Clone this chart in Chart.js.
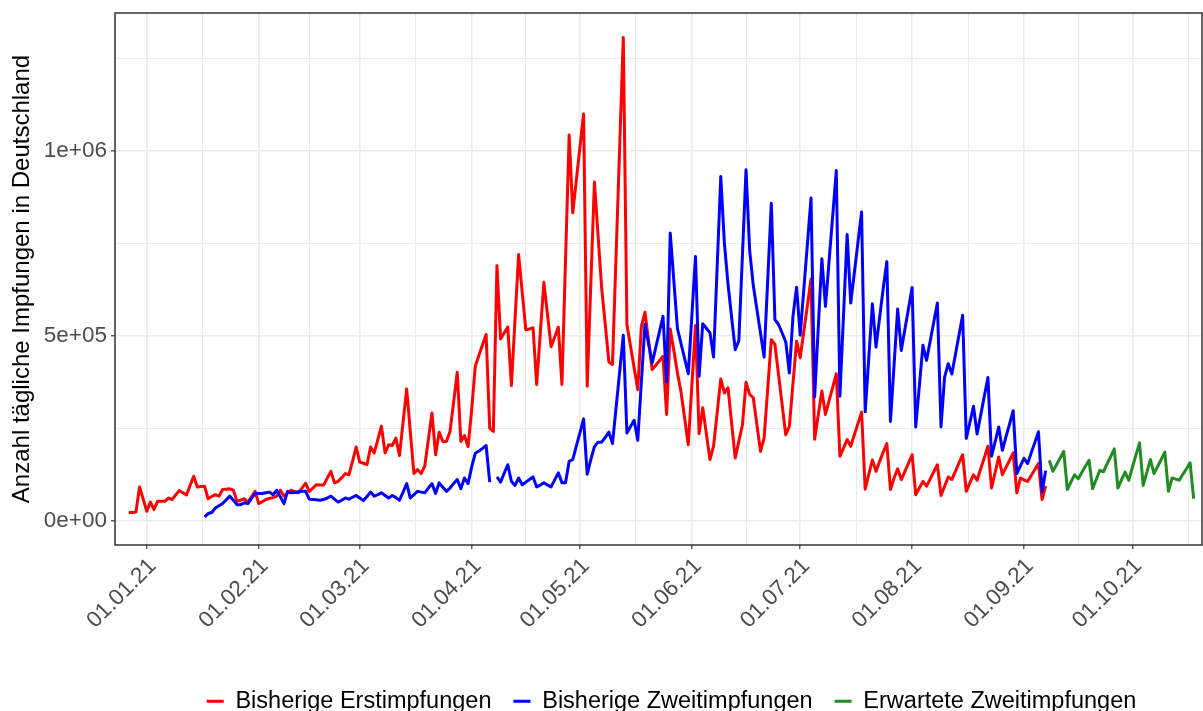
<!DOCTYPE html>
<html lang="de">
<head>
    <meta charset="UTF-8">
    <title>Tägliche Impfungen in Deutschland</title>
    <script src="https://cdn.jsdelivr.net/npm/chart.js"></script>
    <style>
        body {
            margin: 0;
            padding: 0;
            background: #fff;
        }

        .chart-container {
            width: 1203px;
            height: 711px;
        }
    </style>
</head>
<body>

    <div class="chart-container">
        <canvas id="impfChart" width="1203" height="711"></canvas>
    </div>

    <script>
        // x-Achse: Tage ab dem 01.01.21 (= Tag 0)
        const tickDays = [0, 31, 59, 90, 120, 151, 181, 212, 243, 273];
        const tickLabels = ['01.01.21', '01.02.21', '01.03.21', '01.04.21', '01.05.21',
                            '01.06.21', '01.07.21', '01.08.21', '01.09.21', '01.10.21'];
        const minorDays = [15.5, 45, 74.5, 105, 135.5, 166, 196.5, 227.5, 258, 288.5];

        const yTickValues = [0, 500000, 1000000];
        const yTickLabels = ['0e+00', '5e+05', '1e+06'];
        const yMinorValues = [250000, 750000, 1250000];

        // Werte in Tausend, ein Wert pro Tag
        const erstStart = -5; // 27.12.20
        const erstimpfungen = [
            22, 22, 23, 91, 58,
            25, 50, 30, 52, 52, 52, 61, 57, 69, 81,
            75, 69, 95, 120, 91, 92, 93, 59, 65, 70,
            66, 84, 85, 86, 82, 52, 55, 59, 50, 64,
            79, 46, 51, 57, 60, 62, 66, 82, 66, 74,
            82, 78, 75, 88, 101, 79, 88, 97, 96, 96,
            115, 133, 102, 106, 116, 127, 124, 160, 199, 158,
            155, 151, 199, 183, 219, 255, 183, 205, 203, 223,
            176, 266, 356, 240, 127, 138, 127, 147, 219, 291,
            178, 239, 214, 214, 241, 320, 401, 214, 230, 200,
            300, 417, 446, 475, 503, 250, 241, 689, 491, 507,
            523, 365, 542, 719, 617, 516, 518, 521, 368, 506,
            644, 557, 470, 496, 523, 368, 705, 1042, 832, 921,
            1010, 1099, 363, 640, 915, 772, 629, 530, 429, 422,
            717, 1011, 1306, 530, 471, 413, 354, 525, 563, 486,
            408, 420, 432, 444, 287, 518, 460, 399, 347, 276,
            205, 366, 527, 235, 305, 235, 165, 201, 292, 383,
            345, 359, 264, 169, 214, 259, 374, 341, 332, 260,
            187, 223, 356, 489, 476, 395, 313, 232, 255, 370,
            485, 440, 511, 582, 653, 220, 285, 350, 287, 324,
            360, 397, 174, 196, 219, 201, 232, 262, 293, 85,
            125, 164, 133, 160, 185, 208, 84, 115, 140, 111,
            133, 155, 178, 70, 88, 106, 93, 112, 132, 151,
            68, 93, 118, 111, 133, 156, 178, 79, 102, 124,
            109, 140, 170, 201, 88, 130, 172, 124, 144, 163,
            183, 75, 115, 110, 106, 122, 138, 154, 57, 93
        ];

        const zweitStart = 16; // 17.01.21
        const zweitimpfungen = [
            10, 19, 22, 34,
            40, 46, 56, 66, 55, 43, 43, 48, 46, 60,
            73, 73, 73, 75, 77, 70, 82, 64, 46, 79,
            75, 76, 78, 79, 79, 58, 57, 56, 55, 57,
            61, 66, 58, 50, 55, 61, 58, 63, 68, 61,
            54, 65, 77, 66, 70, 75, 68, 61, 68, 62,
            55, 77, 100, 61, 70, 79, 77, 75, 88, 100,
            73, 102, 90, 79, 88, 100, 111, 86, 115, 100,
            145, 182, 188, 195, 203, 104, null, 118, 104, 128,
            151, 106, 95, 115, 97, 104, 111, 118, 91, 96,
            102, 96, 91, 110, 129, 102, 102, 160, 165, 202,
            238, 275, 125, 165, 200, 212, 212, 225, 239, 208,
            305, 403, 501, 237, 254, 271, 217, 374, 531, 478,
            426, 468, 510, 552, 375, 777, 648, 519, 478, 438,
            397, 555, 714, 390, 532, 520, 508, 442, 686, 930,
            750, 640, 550, 462, 486, 717, 948, 730, 636, 571,
            507, 442, 650, 858, 543, 530, 507, 483, 399, 552,
            631, 501, 625, 748, 872, 334, 521, 708, 579, 701,
            823, 946, 336, 555, 773, 588, 670, 752, 834, 294,
            440, 586, 469, 549, 628, 700, 268, 420, 572, 460,
            517, 573, 630, 253, 363, 474, 433, 485, 537, 588,
            253, 388, 424, 396, 449, 502, 555, 222, 265, 309,
            234, 285, 336, 387, 174, 213, 253, 190, 226, 261,
            297, 127, 148, 168, 154, 183, 211, 240, 78, 135
        ];

        const erwartetStart = 250; // 08.09.21
        const erwarteteZweitimpfungen = [
            163, 133, 151, 169, 187, 84, 104, 124, 113, 130,
            147, 163, 86, 111, 136, 132, 153, 173, 194, 88,
            110, 131, 109, 143, 177, 210, 95, 130, 165, 127,
            146, 165, 185, 79, 115, 112, 109, 125, 140, 156, 59
        ];

        const FONT = 'Liberation Sans';
        Chart.defaults.font.family = FONT;

        function toPoints(start, values) {
            return values.map((v, i) => ({ x: start + i, y: v === null ? null : v * 1000 }));
        }

        // Rahmen um das Panel (wie theme_bw)
        const panelBorder = {
            id: 'panelBorder',
            afterLayout(chart) {
                // Legende etwas nach rechts, wie im Original
                chart.legend.left += 13;
                chart.legend.right += 13;
            },
            afterDraw(chart) {
                const { ctx, chartArea: a } = chart;
                ctx.save();
                ctx.strokeStyle = '#333333';
                ctx.lineWidth = 1.5;
                ctx.strokeRect(a.left, a.top, a.right - a.left, a.bottom - a.top);
                ctx.restore();
            }
        };

        const lineStyle = {
            borderWidth: 3,
            pointRadius: 0,
            tension: 0,
            borderJoinStyle: 'round',
            spanGaps: false
        };

        const ctx = document.getElementById('impfChart').getContext('2d');

        new Chart(ctx, {
            type: 'line',
            data: {
                datasets: [
                    {
                        label: 'Bisherige Erstimpfungen',
                        data: toPoints(erstStart, erstimpfungen),
                        borderColor: '#FF0000',
                        backgroundColor: '#FF0000',
                        order: 3,
                        ...lineStyle
                    },
                    {
                        label: 'Bisherige Zweitimpfungen',
                        data: toPoints(zweitStart, zweitimpfungen),
                        borderColor: '#0000FF',
                        backgroundColor: '#0000FF',
                        order: 2,
                        ...lineStyle
                    },
                    {
                        label: 'Erwartete Zweitimpfungen',
                        data: toPoints(erwartetStart, erwarteteZweitimpfungen),
                        borderColor: '#228B22',
                        backgroundColor: '#228B22',
                        order: 1,
                        ...lineStyle
                    }
                ]
            },
            options: {
                responsive: false,
                devicePixelRatio: 1,
                animation: false,
                events: [],
                layout: {
                    padding: { top: 13, right: 1, bottom: 0, left: 0 }
                },
                plugins: {
                    tooltip: { enabled: false },
                    legend: {
                        position: 'bottom',
                        fullSize: false,
                        maxHeight: 43.5,
                        labels: {
                            usePointStyle: true,
                            pointStyle: 'line',
                            pointStyleWidth: 17,
                            padding: 22,
                            color: '#000000',
                            font: { family: FONT, size: 23.5 },
                            sort: (a, b) => a.datasetIndex - b.datasetIndex
                        }
                    }
                },
                scales: {
                    x: {
                        type: 'linear',
                        min: -8.8,
                        max: 292.3,
                        afterBuildTicks: scale => {
                            scale.ticks = tickDays.concat(minorDays).map(v => ({ value: v }));
                        },
                        afterFit: scale => {
                            scale.height = 122.5;
                            scale.paddingLeft = 0;
                            scale.paddingRight = 0;
                        },
                        ticks: {
                            autoSkip: false,
                            maxRotation: 45,
                            minRotation: 45,
                            padding: 4,
                            labelOffset: 6,
                            color: '#4D4D4D',
                            font: { family: FONT, size: 22.5 },
                            callback: value => {
                                const i = tickDays.indexOf(value);
                                return i >= 0 ? tickLabels[i] : '';
                            }
                        },
                        grid: {
                            color: '#EBEBEB',
                            lineWidth: c => tickDays.includes(c.tick.value) ? 1.6 : 1.0,
                            tickColor: c => tickDays.includes(c.tick.value) ? '#333333' : 'rgba(0,0,0,0)',
                            tickLength: 4,
                            tickWidth: 1.2
                        },
                        border: { display: false }
                    },
                    y: {
                        min: -66000,
                        max: 1372000,
                        afterBuildTicks: scale => {
                            scale.ticks = yTickValues.concat(yMinorValues).map(v => ({ value: v }));
                        },
                        afterFit: scale => {
                            scale.width = 115;
                            scale.paddingTop = 0;
                            scale.paddingBottom = 0;
                        },
                        ticks: {
                            padding: 4,
                            color: '#4D4D4D',
                            font: { family: FONT, size: 22.5 },
                            callback: value => {
                                const i = yTickValues.indexOf(value);
                                return i >= 0 ? yTickLabels[i] : '';
                            }
                        },
                        grid: {
                            color: '#EBEBEB',
                            lineWidth: c => yTickValues.includes(c.tick.value) ? 1.6 : 1.0,
                            tickColor: c => yTickValues.includes(c.tick.value) ? '#333333' : 'rgba(0,0,0,0)',
                            tickLength: 4,
                            tickWidth: 1.2
                        },
                        border: { display: false },
                        title: {
                            display: true,
                            text: 'Anzahl tägliche Impfungen in Deutschland',
                            color: '#000000',
                            font: { family: FONT, size: 24 },
                            padding: { top: 8, bottom: 0 }
                        }
                    }
                }
            },
            plugins: [panelBorder]
        });
    </script>

</body>
</html>
